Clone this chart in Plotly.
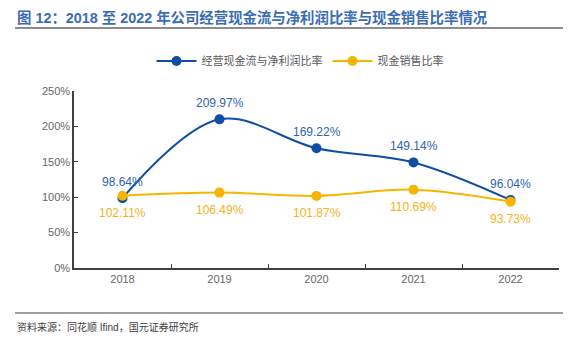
import plotly.graph_objects as go

years = ["2018", "2019", "2020", "2021", "2022"]
cash_profit_ratio = [98.64, 209.97, 169.22, 149.14, 96.04]
cash_sales_ratio = [102.11, 106.49, 101.87, 110.69, 93.73]
series_names = ["经营现金流与净利润比率", "现金销售比率"]
y_ticks = [0, 50, 100, 150, 200, 250]
y_tick_text = [f"{v}%" for v in y_ticks]

W, H = 575, 341
L, R, T, B = 74, 559, 91, 268

def px(x):
    return (x - L) / (R - L)

def py(y):
    return (B - y) / (B - T)

blue = "#0f4fa3"
gold = "#f7b500"
font_family = "Liberation Sans, Arial, Noto Sans CJK SC, sans-serif"

fig = go.Figure()
fig.add_trace(go.Scatter(
    x=years, y=cash_profit_ratio, name=series_names[0],
    mode="lines+markers",
    line=dict(color=blue, width=2, shape="spline", smoothing=1),
    marker=dict(color=blue, size=10),
))
fig.add_trace(go.Scatter(
    x=years, y=cash_sales_ratio, name=series_names[1],
    mode="lines+markers",
    line=dict(color=gold, width=2, shape="spline", smoothing=1),
    marker=dict(color=gold, size=10),
))

for i, v in enumerate(cash_profit_ratio):
    fig.add_annotation(x=i, y=v, xref="x", yref="y", text=f"{v:.2f}%", showarrow=False, yshift=16,
                       font=dict(color="#2e64ad", size=12))
for i, v in enumerate(cash_sales_ratio):
    fig.add_annotation(x=i, y=v, xref="x", yref="y", text=f"{v:.2f}%", showarrow=False, yshift=-17,
                       font=dict(color="#f2b21a", size=12))

fig.update_layout(
    width=W, height=H,
    margin=dict(l=L, r=W - R, t=T, b=H - B),
    paper_bgcolor="white", plot_bgcolor="white",
    font=dict(family=font_family, color="#595959", size=11),
    showlegend=True,
    legend=dict(orientation="h", x=px(300), xanchor="center", y=py(61), yanchor="middle",
                font=dict(size=11, color="#595959"), itemwidth=40),
    xaxis=dict(type="category", range=[-0.5, 4.5], showgrid=False, showline=True,
               linecolor="#404040", linewidth=1.5, ticks="inside", tickson="boundaries",
               ticklen=4, tickcolor="#404040", tickfont=dict(size=11, color="#666666")),
    yaxis=dict(range=[0, 250], tickvals=y_ticks, ticktext=y_tick_text, showgrid=False,
               showline=True, linecolor="#404040", linewidth=1.5, ticks="inside",
               ticklen=4, tickcolor="#404040", zeroline=False,
               tickfont=dict(size=11, color="#666666")),
)

fig.add_annotation(text="<b>图 12：2018 至 2022 年公司经营现金流与净利润比率与现金销售比率情况</b>",
                   xref="paper", yref="paper", x=px(15), y=py(17), xanchor="left", yanchor="middle",
                   showarrow=False, font=dict(size=14.4, color="#3b6db3"))
fig.add_annotation(text="资料来源：同花顺 Ifind，国元证券研究所",
                   xref="paper", yref="paper", x=px(15), y=py(327), xanchor="left", yanchor="middle",
                   showarrow=False, font=dict(size=10, color="#404040"))
fig.add_shape(type="line", xref="paper", yref="paper", x0=px(15), x1=px(563), y0=py(28), y1=py(28),
              line=dict(color="#8c8c8c", width=2))
fig.add_shape(type="line", xref="paper", yref="paper", x0=px(15), x1=px(563), y0=py(313), y1=py(313),
              line=dict(color="#404040", width=1))

fig.write_html("out.html")
